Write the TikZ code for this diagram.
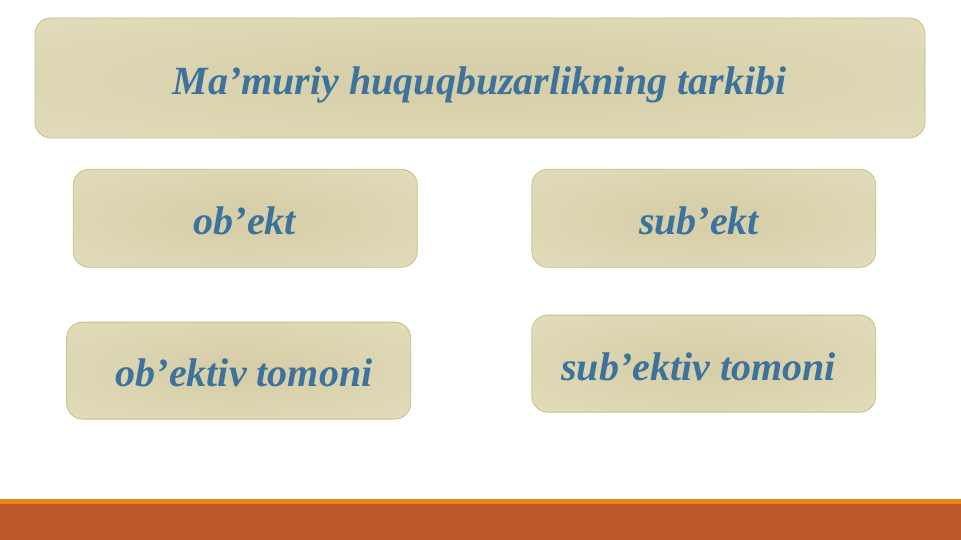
\documentclass[tikz,border=0pt]{standalone}
\usepackage{fontspec}
\setmainfont{Liberation Serif}
\definecolor{cin}{HTML}{D6CFA9}
\definecolor{cout}{HTML}{E5E0C0}
\definecolor{cedge}{HTML}{C9BE82}
\definecolor{ctext}{HTML}{3D729C}
\definecolor{corange}{HTML}{E6870F}
\definecolor{crust}{HTML}{BD5A2B}
\pgfdeclareradialshading{boxshade}{\pgfpoint{0bp}{0bp}}{color(0bp)=(cin); color(6bp)=(cin); color(45bp)=(cout); color(75bp)=(cout)}
\tikzset{
  box/.style={draw=cedge, line width=0.8pt, rounded corners=16pt, shading=boxshade, inner sep=0pt},
  lbl/.style={text=ctext, font=\fontsize{40}{48}\selectfont\bfseries\itshape, anchor=base, inner sep=0pt}
}
\begin{document}
\begin{tikzpicture}[x=1pt,y=-1pt]
\useasboundingbox (0,0) rectangle (961,540);
\fill[white] (0,0) rectangle (961,540);
% bottom bars
\fill[corange] (0,499) rectangle (961,504);
\fill[crust] (0,504) rectangle (961,540);
% boxes
\node[box, minimum width=890pt, minimum height=120pt] (title) at (480,78) {};
\node[box, minimum width=344pt, minimum height=98pt] (obj) at (245.3,218.3) {};
\node[box, minimum width=344pt, minimum height=98pt] (subj) at (703.8,218.3) {};
\node[box, minimum width=344pt, minimum height=97pt] (objt) at (238.7,370.6) {};
\node[box, minimum width=344pt, minimum height=97pt] (subjt) at (703.8,363.6) {};
% labels
\node[lbl] (titlet) at (479.5,94.5) {Ma’muriy huquqbuzarlikning tarkibi};
\node[lbl] (objl) at (245,234) {ob’ekt};
\node[lbl] (subjl) at (699,235) {sub’ekt};
\node[lbl] (objtl) at (244,386.7) {ob’ektiv tomoni};
\node[lbl] (subjtl) at (698.5,380) {sub’ektiv tomoni};
\end{tikzpicture}
\end{document}
